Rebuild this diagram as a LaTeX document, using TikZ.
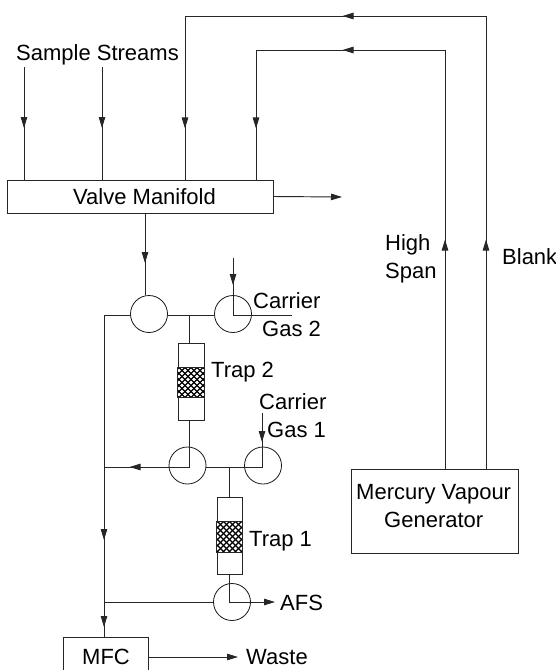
\documentclass[tikz,border=0pt]{standalone}
\usepackage{fontspec}
\setmainfont{Liberation Sans}
\usetikzlibrary{arrows.meta,decorations.markings,calc}
\tikzset{
  wire/.style={line width=0.95pt,draw=black!85},
  head/.tip={Triangle[length=11pt,width=6.5pt]},
  endarrow/.style={wire,-{head[]}},
  midarrows/.style={wire,postaction={decorate},decoration={markings,#1}},
  box/.style={draw=black!85,line width=0.95pt,fill=white,inner sep=0pt},
  valve/.style={draw=black!90,line width=0.8pt,circle,minimum size=37pt,inner sep=0pt},
  label/.style={anchor=base west,inner sep=0pt,font=\fontsize{22}{24}\selectfont,text=black},
  /pgf/decoration/tipat/.style={mark=at position #1pt with {\arrow{head[]}}},
}
\begin{document}
\begin{tikzpicture}[x=1pt,y=-1pt]
\clip (0,0) rectangle (556,670);
% boxes
\node[box,minimum width=266pt,minimum height=33pt] (vm) at (140,196.5) {};
\node[box,minimum width=167pt,minimum height=84pt] (gen) at (434.5,511) {};
\node[box,minimum width=85pt,minimum height=43pt] (mfc) at (105.5,658.5) {};
\node[box,minimum width=26pt,minimum height=77pt] (trapB) at (191,381.5) {};
\node[box,minimum width=25pt,minimum height=77pt] (trapA) at (229.5,535.5) {};
% trap packing
\foreach \t/\a/\b in {trapB/367/397,trapA/521/552}{
  \begin{scope}
    \clip (\t.west |- 0,\a) rectangle (\t.east |- 0,\b);
    \fill[white] (\t.west |- 0,\a) rectangle (\t.east |- 0,\b);
    \foreach \k in {-12,...,12}{
      \draw[black,line width=1.35pt] ($(\t.center)+(\k*6,-20)$) -- ++(40,40);
      \draw[black,line width=1.35pt] ($(\t.center)+(\k*6,-20)$) -- ++(-40,40);
    }
  \end{scope}
  \draw[black!85,line width=0.95pt] (\t.west |- 0,\a) rectangle (\t.east |- 0,\b);
}
% valves
\node[valve] (v1) at (149,314) {};
\node[valve] (v2) at (233,314) {};
\node[valve] (v3) at (187.5,465.5) {};
\node[valve] (v4) at (263,465.5) {};
\node[valve] (v5) at (232,602) {};
% free ends and bends
\coordinate (s1) at (24,67);
\coordinate (s2) at (102,67);
\coordinate (b1) at (185,16);
\coordinate (b2) at (486,16);
\coordinate (h1) at (256,50);
\coordinate (h2) at (445,50);
\coordinate (out) at (342,197);
\coordinate (c2top) at (233,258);
\coordinate (c2mid) at (233,315);
\coordinate (c2end) at (292,315);
\coordinate (c1top) at (262,413);
\coordinate (c1mid) at (262,467);
\coordinate (tl) at (104,315);
\coordinate (ml) at (104,467);
\coordinate (ll) at (104,602);
\coordinate (tj) at (189,315);
\coordinate (bj) at (189,467);
\coordinate (aj) at (229,467);
\coordinate (v5c) at (229,602);
\coordinate (afs) at (275,602);
\coordinate (waste) at (238,657);
\coordinate (vmout) at (145,213);
% sample streams
\draw[midarrows={tipat=61}] (s1) -- (s1 |- vm.north);
\draw[midarrows={tipat=61}] (s2) -- (s2 |- vm.north);
% blank and high span
\draw[midarrows={tipat=229,tipat=596,tipat=866}] (b2 |- gen.north) -- (b2) -- (b1) -- (b1 |- vm.north);
\draw[midarrows={tipat=229,tipat=521,tipat=686}] (h2 |- gen.north) -- (h2) -- (h1) -- (h1 |- vm.north);
% manifold outlets
\draw[endarrow] (vm.east) -- (out);
\draw[midarrows={tipat=50}] (vmout) -- (vmout |- v1.north);
% upper valve row
\draw[wire] (v1.west |- tl) -- (tl);
\draw[wire] (v1.east |- tl) -- (v2.west |- tl);
\draw[wire] (tj) -- (trapB.north -| tj);
\draw[midarrows={tipat=27}] (c2top) -- (c2mid) -- (c2end);
% middle valve row
\draw[midarrows={tipat=106}] (trapB.south -| bj) -- (bj) -- (ml);
\draw[midarrows={tipat=29}] (c1top) -- (c1mid) -- (v3.east |- c1mid);
\draw[wire] (aj) -- (aj |- trapA.north);
% main drain line
\draw[midarrows={tipat=225,tipat=312}] (tl) -- (tl |- mfc.north);
% lower valve
\draw[wire] (v5.west |- ll) -- (ll);
\draw[wire] (aj |- trapA.south) -- (v5c);
\draw[endarrow] (v5c) -- (afs);
\draw[endarrow] (mfc.east |- waste) -- (waste);
% labels
\node[label] (tSample) at (16,60) {Sample Streams};
\node[label] (tValve) at (73,204) {Valve Manifold};
\node[label] (tCar2) at (253,308) {Carrier};
\node[label] (tGas2) at (262,336) {Gas 2};
\node[label] (tTrap2) at (211,377) {Trap 2};
\node[label] (tCar1) at (259,409) {Carrier};
\node[label] (tGas1) at (267,437) {Gas 1};
\node[label] (tTrap1) at (249,546) {Trap 1};
\node[label] (tAFS) at (280,610) {AFS};
\node[label] (tMFC) at (82,664) {MFC};
\node[label] (tWaste) at (246,664) {Waste};
\node[label] (tHigh) at (385,250) {High};
\node[label] (tSpan) at (385,278) {Span};
\node[label] (tBlank) at (502,264) {Blank};
\node[label] (tMerc) at (356,499) {Mercury Vapour};
\node[label] (tGen) at (384,527) {Generator};
\end{tikzpicture}
\end{document}
